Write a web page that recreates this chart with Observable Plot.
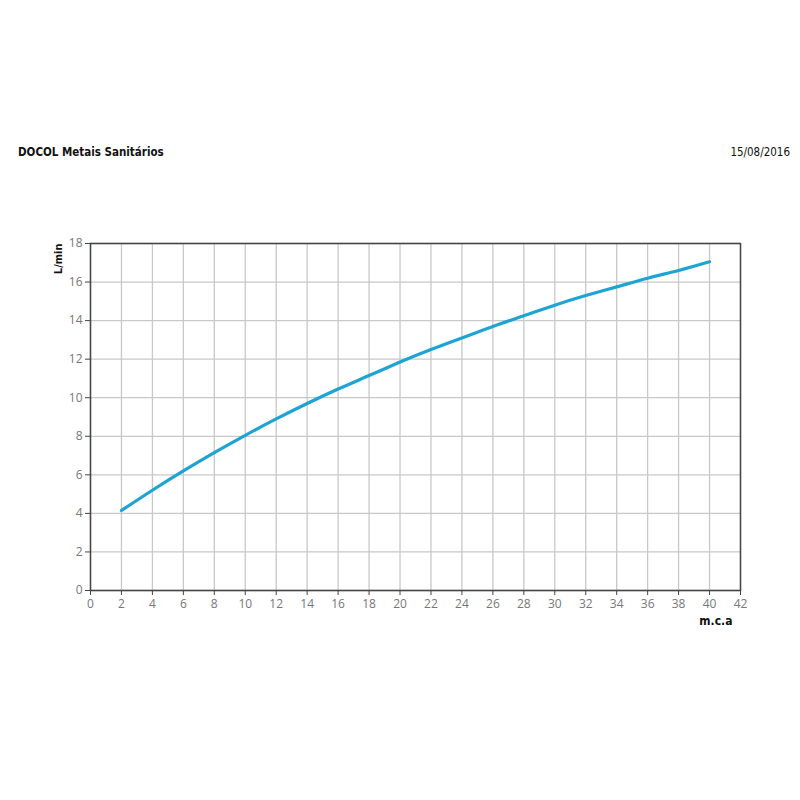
<!DOCTYPE html>
<html>
<head>
<meta charset="utf-8">
<script src="https://cdn.jsdelivr.net/npm/d3@7"></script>
<script src="https://cdn.jsdelivr.net/npm/@observablehq/plot@0.6"></script>
<style>
  body { margin: 0; background: #fff; font-family: "Open Sans", sans-serif; }
  #header { position: relative; height: 200px; }
  #title { position: absolute; left: 18px; top: 145px; font-family: "DejaVu Sans Condensed", "DejaVu Sans", sans-serif; font-weight: bold; font-size: 11.5px; color: #111; }
  #date { position: absolute; right: 10px; top: 145px; font-family: "DejaVu Sans Condensed", "DejaVu Sans", sans-serif; font-size: 11.5px; color: #111; }
</style>
</head>
<body>
<div id="header">
  <div id="title">DOCOL Metais Sanitários</div>
  <div id="date">15/08/2016</div>
</div>
<div id="chart"></div>
<script>
const pressure = [2, 4, 6, 8, 10, 12, 14, 16, 18, 20, 22, 24, 26, 28, 30, 32, 34, 36, 38, 40];
const flow = [4.15, 5.2, 6.2, 7.15, 8.05, 8.9, 9.7, 10.45, 11.15, 11.85, 12.5, 13.1, 13.7, 14.25, 14.8, 15.3, 15.75, 16.2, 16.6, 17.05];
const xTicks = d3.range(0, 43, 2);
const yTicks = d3.range(0, 19, 2);
const xLabel = "m.c.a";
const yLabel = "L/min";

const data = pressure.map((p, i) => ({p, q: flow[i]}));

const chart = Plot.plot({
  width: 800,
  height: 460,
  marginTop: 43,
  marginBottom: 70,
  marginLeft: 90,
  marginRight: 60,
  style: {fontFamily: "Open Sans, sans-serif", fontSize: "12px", color: "#777"},
  x: {domain: [0, 42], ticks: xTicks, label: null},
  y: {domain: [0, 18], ticks: yTicks, label: null},
  marks: [
    Plot.gridX(xTicks, {stroke: "#c8c8c8", strokeOpacity: 1, strokeWidth: 1.3}),
    Plot.gridY(yTicks, {stroke: "#c8c8c8", strokeOpacity: 1, strokeWidth: 1.3}),
    Plot.frame({stroke: "#444", strokeWidth: 1.5}),
    Plot.axisX(xTicks, {tickSize: 5, tickPadding: 4, stroke: "#444", fill: "#777", fontSize: 12, label: null}),
    Plot.axisY(yTicks, {tickSize: 5, tickPadding: 3, stroke: "#444", fill: "#777", fontSize: 12, label: null}),
    Plot.line(data, {x: "p", y: "q", stroke: "#1ea4d3", strokeWidth: 3.2, curve: "natural"}),
    Plot.text([xLabel], {frameAnchor: "bottom-right", dx: -8, dy: 34, fill: "#111", fontWeight: "bold", fontSize: 12, textAnchor: "end", fontFamily: "DejaVu Sans Condensed, sans-serif"}),
    Plot.text([yLabel], {frameAnchor: "top-left", dx: -36, dy: 0, rotate: -90, fill: "#111", fontWeight: "bold", fontSize: 11, textAnchor: "end", fontFamily: "DejaVu Sans Condensed, sans-serif"})
  ]
});
document.getElementById("chart").appendChild(chart);
</script>
</body>
</html>
